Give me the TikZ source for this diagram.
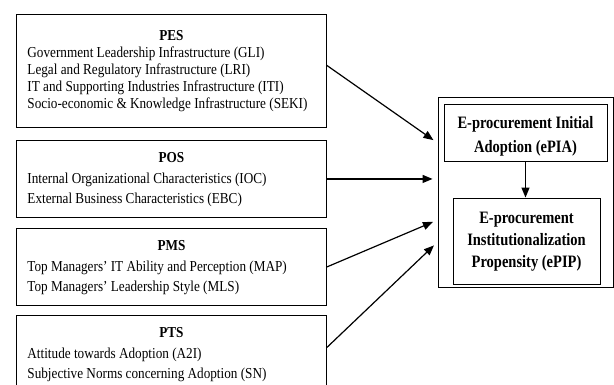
\documentclass[tikz,border=0pt]{standalone}
\usepackage{fontspec}
\usepackage{graphicx}
\setmainfont{Liberation Serif}
\usetikzlibrary{positioning,arrows.meta}
\newcommand{\factortext}[2]{\scalebox{1}[1.15]{\begin{tabular}{@{}l@{}}\makebox[288pt]{\textbf{#1}}\\#2\end{tabular}}}
\newcommand{\stagetext}[1]{\scalebox{1}[1.2]{\begin{tabular}{@{}c@{}}#1\end{tabular}}}

\begin{document}
\begin{tikzpicture}[x=1pt,y=-1pt,
  factor/.style={draw,line width=0.9pt,rectangle,anchor=north west,inner xsep=11pt,inner ysep=0pt,minimum width=310pt,minimum height=77pt,font=\fontsize{13.2}{17.8}\selectfont},
  stage/.style={draw,line width=0.9pt,rectangle,inner sep=0pt,font=\bfseries\fontsize{14.5}{20}\selectfont},
  link/.style={-{Triangle[length=10pt,width=8pt]},line width=1.2pt,shorten >=5pt}]
\useasboundingbox (0,0) rectangle (614,385);
% the four factor groups
\node[factor,minimum height=113pt,font=\fontsize{13.2}{14.8}\selectfont] (pes) at (16,14) {\factortext{PES}{Government Leadership Infrastructure (GLI)\\Legal and Regulatory Infrastructure (LRI)\\IT and Supporting Industries Infrastructure (ITI)\\Socio-economic \& Knowledge Infrastructure (SEKI)}};
\node[factor] (pos) at (16,140) {\factortext{POS}{Internal Organizational Characteristics (IOC)\\External Business Characteristics (EBC)}};
\node[factor] (pms) at (16,228) {\factortext{PMS}{Top Managers' IT Ability and Perception (MAP)\\Top Managers' Leadership Style (MLS)}};
\node[factor] (pts) at (16,315) {\factortext{PTS}{Attitude towards Adoption (A2I)\\Subjective Norms concerning Adoption (SN)}};
% e-procurement stages
\node[draw,line width=0.9pt,minimum width=175pt,minimum height=190pt] (model) at (525.5,192) {};
\node[stage,minimum width=163pt,minimum height=57pt] (epia) at (525.5,132.5) {\raisebox{-3.5pt}[\height][\depth]{\stagetext{E-procurement Initial\\Adoption (ePIA)}}};
\node[stage,minimum width=147pt,minimum height=86pt,font=\bfseries\fontsize{14.5}{18.3}\selectfont] (epip) at (526.5,241) {\stagetext{E-procurement\\Institutionalization\\Propensity (ePIP)}};
\draw[link,shorten >=0pt] (epia) -- (epia |- epip.north);
% links into the model
\draw[link] ([yshift=5.5pt]pes.east) -- ([yshift=49pt]model.west);
\draw[link] (pos.east) -- (pos.east -| model.west);
\draw[link] (pms.east) -- ([yshift=-28pt]model.west);
\draw[link] ([yshift=6.5pt]pts.east) -- ([yshift=-50pt]model.west);
\end{tikzpicture}
\end{document}
